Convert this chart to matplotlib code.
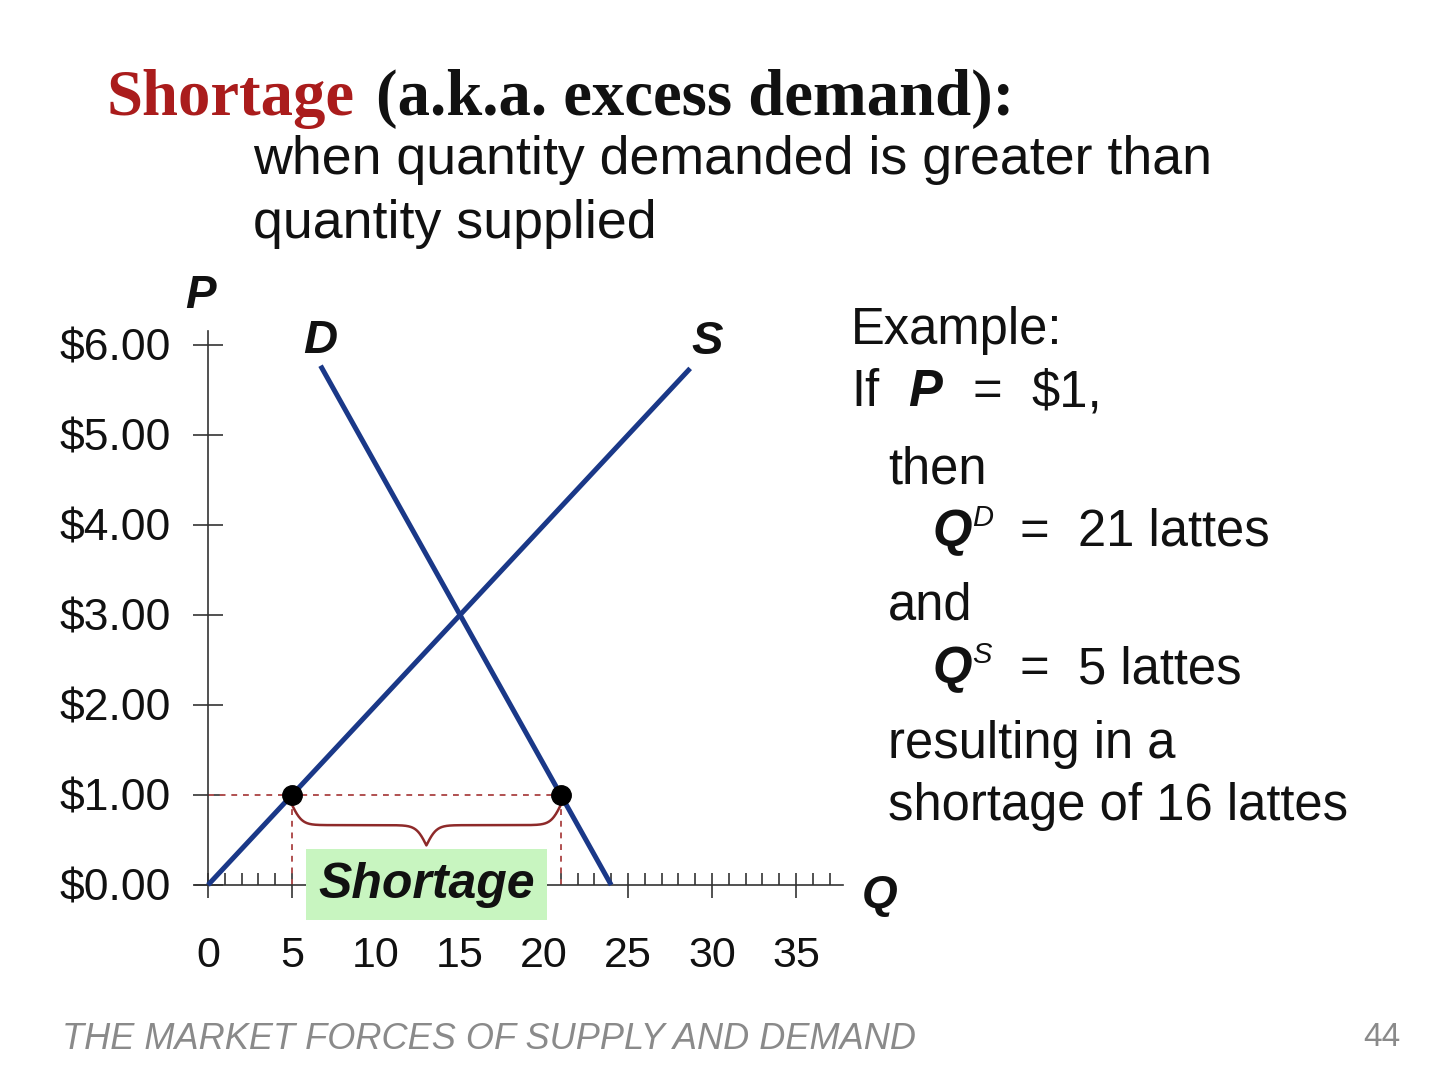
import matplotlib
matplotlib.use("Agg")
import matplotlib.pyplot as plt
import numpy as np

# ---------------- data ----------------
price_ticks = [0, 1, 2, 3, 4, 5, 6]
price_labels = ["$0.00", "$1.00", "$2.00", "$3.00", "$4.00", "$5.00", "$6.00"]
qty_ticks = [0, 5, 10, 15, 20, 25, 30, 35]
qty_labels = ["0", "5", "10", "15", "20", "25", "30", "35"]

supply_q = [0.0, 28.7]
supply_p = [0.0, 5.74]
demand_q = [6.7, 24.0]
demand_p = [5.77, 0.0]

example_price = 1.0
example_qs = 5
example_qd = 21

# ---------------- styling ----------------
plt.rcParams["font.family"] = ["Liberation Sans", "DejaVu Sans"]
W, H = 1440, 1080
fig = plt.figure(figsize=(14.4, 10.8), dpi=100)
fig.patch.set_facecolor("white")


def fx(px):
    return px / W


def fy(py):
    return 1 - py / H


line_col = "#1a3888"
axis_col = "#333333"
dash_col = "#b05050"
brace_col = "#8e2a2a"

ax = fig.add_axes([0.13278, 0.14306, 0.455, 0.57917])
ax.set_xlim(-1, 38)
ax.set_ylim(-0.45, 6.5)
ax.patch.set_visible(False)
for side in ("top", "right"):
    ax.spines[side].set_visible(False)
ax.spines["left"].set_position(("data", 0))
ax.spines["bottom"].set_position(("data", 0))
ax.spines["left"].set_bounds(0, 6.15)
ax.spines["bottom"].set_bounds(-0.8, 37.8)
for side in ("left", "bottom"):
    ax.spines[side].set_color(axis_col)
    ax.spines[side].set_linewidth(1.2)

ax.set_xticks(qty_ticks)
ax.set_xticklabels(qty_labels)
ax.set_xticks(np.arange(0, 38, 1), minor=True)
ax.set_yticks(price_ticks)
ax.set_yticklabels(price_labels)
ax.tick_params(axis="x", which="major", direction="inout", length=18, width=1.2,
               color=axis_col, labelsize=31, pad=28, labelcolor="#111111")
ax.tick_params(axis="x", which="minor", direction="in", length=8.5, width=1.2,
               color=axis_col)
ax.tick_params(axis="y", which="major", direction="inout", length=21, width=1.2,
               color=axis_col, labelsize=32, pad=16, labelcolor="#111111")

# dashed guides
ax.plot([0, example_qd], [example_price, example_price], ls=(0, (3, 3)),
        color=dash_col, lw=1.4, zorder=2)
ax.plot([example_qs, example_qs], [0, example_price], ls=(0, (3, 3)),
        color=dash_col, lw=1.4, zorder=2)
ax.plot([example_qd, example_qd], [0, example_price], ls=(0, (3, 3)),
        color=dash_col, lw=1.4, zorder=2)

# supply & demand
ax.plot(supply_q, supply_p, color=line_col, lw=3.6, solid_capstyle="butt", zorder=3)
ax.plot(demand_q, demand_p, color=line_col, lw=3.6, solid_capstyle="butt", zorder=3)

# points
ax.plot([example_qs, example_qd], [example_price, example_price], "o",
        color="black", ms=14, zorder=5)

# curly brace between Qs and Qd
def brace(x0, x1, ytop, depth, beta=3.3, n=301):
    xm = (x0 + x1) / 2
    xh = np.linspace(x0, xm, n)
    yh = 1 / (1 + np.exp(-beta * (xh - x0))) + 1 / (1 + np.exp(-beta * (xh - xm)))
    yh = (yh - yh[0]) / (yh[-1] - yh[0])
    xs = np.concatenate([xh, (2 * xm - xh[::-1])[1:]])
    ys = np.concatenate([yh, yh[::-1][1:]])
    return xs, ytop - depth * ys

bx, by = brace(example_qs, example_qd, example_price - 0.11, 0.45)
ax.plot(bx, by, color=brace_col, lw=1.8, zorder=4)

# shortage label box
ax.text((example_qs + example_qd) / 2, 0, "Shortage", fontsize=36,
        fontweight="bold", fontstyle="italic", ha="center", va="center",
        color="#111111", zorder=6,
        bbox=dict(boxstyle="square,pad=0.25", facecolor="#c8f5c0", edgecolor="none"))

# curve labels
bi = dict(fontweight="bold", fontstyle="italic", color="#111111")
ax.annotate("D", (demand_q[0], demand_p[0]), xytext=(0, 18), textcoords="offset points",
            ha="center", va="center", fontsize=34, **bi)
ax.annotate("S", (supply_q[1], supply_p[1]), xytext=(12, 19), textcoords="offset points",
            ha="center", va="center", fontsize=34, **bi)
fig.text(fx(200), fy(296), "P", ha="center", va="center", fontsize=33, **bi)
fig.text(fx(880), fy(896), "Q", ha="center", va="center", fontsize=33, **bi)

# title
fig.text(fx(107), fy(115), "Shortage", family="Liberation Serif", fontweight="bold",
         fontsize=46.5, color="#aa1c1c", va="baseline", ha="left")
fig.text(fx(376), fy(115), "(a.k.a. excess demand):", family="Liberation Serif",
         fontweight="bold", fontsize=46.5, color="#111111", va="baseline", ha="left")
fig.text(fx(253), fy(174), "when quantity demanded is greater than", fontsize=38.7,
         color="#111111", va="baseline", ha="left")
fig.text(fx(253), fy(238), "quantity supplied", fontsize=38.7,
         color="#111111", va="baseline", ha="left")

# right explanation block
tk = dict(fontsize=36.5, color="#111111", va="baseline", ha="left")
bik = dict(fontsize=36.5, color="#111111", va="baseline", ha="left",
           fontweight="bold", fontstyle="italic")
fig.text(fx(851), fy(344), "Example:", **tk)
fig.text(fx(851), fy(406), "If", **tk)
fig.text(fx(908), fy(406), "P", **bik)
fig.text(fx(972), fy(406), "=", **tk)
fig.text(fx(1031), fy(406), "$1,", **tk)
fig.text(fx(888), fy(483), "then", **tk)
fig.text(fx(933), fy(546), "Q", **bik)
fig.text(fx(972), fy(526), "D", fontsize=21, color="#111111", va="baseline", ha="left",
         fontstyle="italic")
fig.text(fx(1020), fy(546), "=", **tk)
fig.text(fx(1078), fy(546), "21 lattes", **tk)
fig.text(fx(888), fy(620), "and", **tk)
fig.text(fx(933), fy(683), "Q", **bik)
fig.text(fx(972), fy(663), "S", fontsize=21, color="#111111", va="baseline", ha="left",
         fontstyle="italic")
fig.text(fx(1020), fy(683), "=", **tk)
fig.text(fx(1078), fy(683), "5 lattes", **tk)
fig.text(fx(888), fy(758), "resulting in a", **tk)
fig.text(fx(888), fy(820), "shortage of 16 lattes", **tk)

# footer
fig.text(fx(62), fy(1049), "THE MARKET FORCES OF SUPPLY AND DEMAND", fontsize=26,
         fontstyle="italic", color="#8a8a8a", va="baseline", ha="left")
fig.text(fx(1400), fy(1046), "44", fontsize=24, color="#8a8a8a", va="baseline", ha="right")

fig.savefig("out.png", dpi=100, facecolor="white")
